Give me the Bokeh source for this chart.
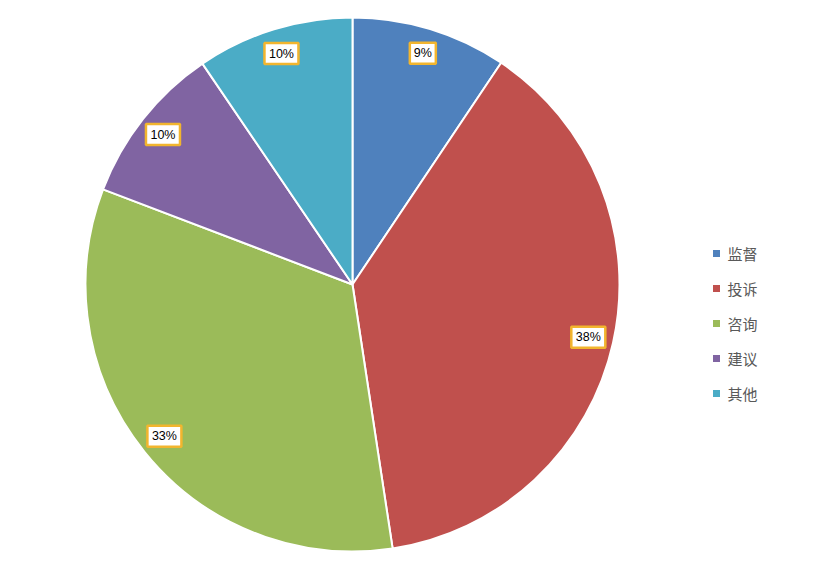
import math
from bokeh.plotting import figure
from bokeh.models import ColumnDataSource
from bokeh.core.properties import value
from bokeh.embed import file_html
from bokeh.resources import INLINE

categories = ["监督", "投诉", "咨询", "建议", "其他"]
values = [9.4, 38.2, 33.2, 9.7, 9.5]
colors = ["#4F81BD", "#C0504D", "#9BBB59", "#8064A2", "#4BACC6"]

W, H = 815, 565
cx, cy, R = 352, H - 284, 267

total = sum(values)
starts, ends, lx, ly, labels, bw = [], [], [], [], [], []
a = math.pi / 2
for v in values:
    sweep = 2 * math.pi * v / total
    starts.append(a - sweep)
    ends.append(a)
    mid = a - sweep / 2
    lx.append(cx + 0.905 * R * math.cos(mid))
    ly.append(cy + 0.905 * R * math.sin(mid))
    t = f"{round(100 * v / total)}%"
    labels.append(t)
    bw.append(10 + 8 * len(t))
    a -= sweep

src = ColumnDataSource(dict(start=starts, end=ends, color=colors, lx=lx, ly=ly,
                            label=labels, bw=bw, cat=categories))

p = figure(width=W, height=H, x_range=(0, W), y_range=(0, H),
           output_backend="svg", toolbar_location=None, min_border=0,
           outline_line_color=None)
p.axis.visible = False
p.grid.visible = False
p.background_fill_color = "white"

p.wedge(x=cx, y=cy, radius=R, start_angle="start", end_angle="end",
        fill_color="color", line_color="white", line_width=2, source=src)

p.rect(x="lx", y="ly", width="bw", height=21, width_units="screen", height_units="screen",
       fill_color="white", line_color="#F2B52E", line_width=2.5, source=src)
p.text(x="lx", y="ly", text="label", text_align="center", text_baseline="middle",
       text_font=value("Liberation Sans"), text_font_size="12.5px", text_color="#000000", source=src)

# legend
leg_y = [H - 253 - 35 * i for i in range(len(categories))]
leg_src = ColumnDataSource(dict(x=[716] * len(categories), tx=[727] * len(categories),
                                y=leg_y, color=colors, cat=categories))
p.scatter(x="x", y="y", marker="square", size=7, fill_color="color", line_color=None, source=leg_src)
p.text(x="tx", y="y", text="cat", text_align="left", text_baseline="middle",
       text_font=value("Noto Sans CJK SC"), text_font_size="15px", text_color="#595959", source=leg_src)

open("out.html", "w").write(file_html(p, INLINE))
